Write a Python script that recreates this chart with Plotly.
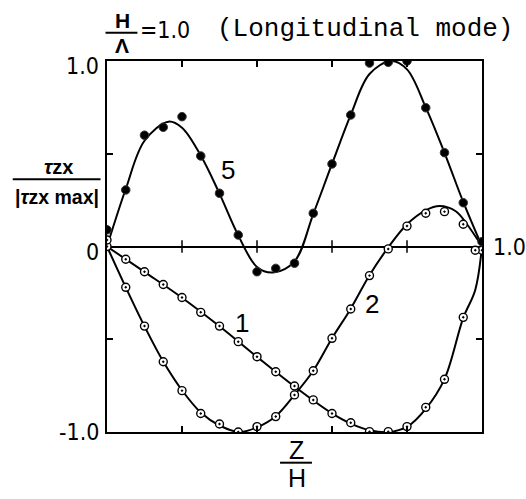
import plotly.graph_objects as go

# Measured shear-stress distributions, tau_zx / |tau_zx max| against Z/H
z1 = [0.0, 0.05, 0.10, 0.15, 0.20, 0.25, 0.30, 0.35, 0.40, 0.45, 0.50,
      0.55, 0.60, 0.65, 0.70, 0.75, 0.80, 0.85, 0.90, 0.95, 1.0]
t1 = [0.0, -0.069, -0.136, -0.205, -0.275, -0.355, -0.429, -0.513, -0.594, -0.675, -0.752,
      -0.827, -0.90, -0.95, -0.998, -0.998, -0.971, -0.867, -0.716, -0.382, -0.02]

z2 = [0.0, 0.05, 0.10, 0.15, 0.20, 0.25, 0.30, 0.35, 0.40, 0.45, 0.50,
      0.55, 0.60, 0.65, 0.70, 0.75, 0.80, 0.85, 0.90, 0.95, 0.982]
t2 = [0.035, -0.22, -0.429, -0.621, -0.777, -0.90, -0.957, -1.0, -0.971, -0.917, -0.80,
      -0.67, -0.495, -0.337, -0.157, -0.013, 0.11, 0.179, 0.188, 0.12, -0.02]

z5 = [0.0, 0.05, 0.10, 0.15, 0.20, 0.25, 0.30, 0.35, 0.40, 0.45, 0.50,
      0.55, 0.60, 0.65, 0.70, 0.75, 0.80, 0.85, 0.90, 0.95, 1.0]
t5 = [0.09, 0.305, 0.60, 0.643, 0.70, 0.488, 0.287, 0.062, -0.136, -0.118, -0.09,
      0.179, 0.445, 0.709, 0.989, 0.993, 1.0, 0.748, 0.506, 0.236, 0.026]

# Theoretical curves (nodes of the smooth solid lines)
c1_z = [0.0, 0.1, 0.2, 0.3, 0.4, 0.5, 0.6, 0.65, 0.70, 0.75, 0.80, 0.85, 0.90, 0.95, 0.982, 1.0]
c1_t = [0.0, -0.137, -0.276, -0.43, -0.595, -0.755, -0.90, -0.955, -0.99, -1.0, -0.972,
        -0.875, -0.715, -0.385, -0.234, 0.0]

c2_z = [0.0, 0.05, 0.10, 0.15, 0.20, 0.25, 0.30, 0.353, 0.40, 0.45, 0.50, 0.55, 0.60,
        0.65, 0.70, 0.75, 0.80, 0.85, 0.887, 0.93, 0.96, 1.0]
c2_t = [0.0, -0.22, -0.43, -0.62, -0.775, -0.895, -0.965, -1.0, -0.975, -0.915, -0.80,
        -0.67, -0.495, -0.335, -0.155, -0.005, 0.12, 0.195, 0.218, 0.19, 0.12, 0.0]

c5_z = [0.0, 0.05, 0.10, 0.164, 0.20, 0.25, 0.30, 0.35, 0.40, 0.443, 0.50, 0.55, 0.60,
        0.65, 0.70, 0.758, 0.80, 0.85, 0.90, 0.95, 1.0]
c5_t = [0.0, 0.31, 0.57, 0.673, 0.64, 0.49, 0.285, 0.06, -0.11, -0.14, -0.08, 0.175, 0.445,
        0.71, 0.93, 1.0, 0.955, 0.75, 0.505, 0.24, 0.0]

curve_labels = ["1", "2", "5"]
label_z = [0.36, 0.706, 0.323]
label_t = [-0.412, -0.31, 0.412]

zero_ticks = [0.2, 0.4, 0.6, 0.8]
x_ticks = [0.2, 0.4, 0.6, 0.8]
y_ticks = [-0.5, 0.5]

W, H = 526, 499
ML, MR, MT, MB = 106.5, 43.5, 61, 67
PW, PH = W - ML - MR, H - MT - MB


def px(x):
    return (x - ML) / PW


def py(y):
    return (H - MB - y) / PH


NUM_FONT = "Liberation Sans Narrow, DejaVu Sans Condensed, Liberation Sans, sans-serif"
SANS = "Liberation Sans, Arial, sans-serif"
MONO = "Liberation Mono, DejaVu Sans Mono, monospace"

fig = go.Figure()

line_style = dict(color="black", width=2, shape="spline", smoothing=1.0)
for cz, ct in [(c1_z, c1_t), (c2_z, c2_t), (c5_z, c5_t)]:
    fig.add_trace(go.Scatter(x=cz, y=ct, mode="lines", line=line_style,
                             hoverinfo="skip", showlegend=False))

# short tick marks crossing the zero line
fig.add_trace(go.Scatter(x=zero_ticks, y=[0] * len(zero_ticks), mode="markers",
                         marker=dict(symbol="line-ns", size=9,
                                     line=dict(color="black", width=1.5)),
                         hoverinfo="skip", showlegend=False))

open_marker = dict(symbol="circle-dot", size=8, color="white",
                   line=dict(color="black", width=1.4))
for zz, tt in [(z1, t1), (z2, t2)]:
    fig.add_trace(go.Scatter(x=zz, y=tt, mode="markers", marker=open_marker,
                             showlegend=False))

fig.add_trace(go.Scatter(x=z5, y=t5, mode="markers",
                         marker=dict(symbol="circle", size=8.5, color="black",
                                     line=dict(color="#333", width=1)),
                         showlegend=False))


def text_at(x, y, txt, font, xanchor="center", yanchor="middle", xref="paper",
            yref="paper", **kw):
    return dict(x=x, y=y, xref=xref, yref=yref, text=txt, showarrow=False,
                xanchor=xanchor, yanchor=yanchor, font=font, **kw)


annotations = []
for lab, lz, lt in zip(curve_labels, label_z, label_t):
    annotations.append(text_at(lz, lt, lab, dict(family=SANS, size=26, color="black"),
                               xref="x", yref="y"))

# y-axis value labels
for val, txt, ys in [(1.0, "1.0", -5), (0.0, "0", -5), (-1.0, "-1.0", 0)]:
    annotations.append(text_at(0, val, txt, dict(family=NUM_FONT, size=23, color="black"),
                               xanchor="right", yref="y", xshift=-6, yshift=ys))
# right-hand end of the zero line
annotations.append(text_at(1, 0, "1.0", dict(family=NUM_FONT, size=23, color="black"),
                           xanchor="left", yref="y", xshift=9))

# y-axis title as a stacked fraction
annotations.append(text_at(px(57.5), py(167), "<b><i>τ</i>zx</b>",
                           dict(family=SANS, size=20, color="black")))
annotations.append(text_at(px(56.5), py(197), "<b>|<i>τ</i>zx max|</b>",
                           dict(family=SANS, size=19.5, color="black")))

# x-axis title Z/H
annotations.append(text_at(px(296.5), py(450), "Z", dict(family=SANS, size=25, color="black")))
annotations.append(text_at(px(297), py(478), "H", dict(family=SANS, size=25, color="black")))

# heading: H/Λ = 1.0 (Longitudinal mode)
annotations.append(text_at(px(122), py(20.5), "<b>H</b>", dict(family=SANS, size=21, color="black")))
annotations.append(text_at(px(122), py(45.5), "<b>Λ</b>", dict(family=SANS, size=21, color="black")))
annotations.append(text_at(px(138), py(30), "=1.0", dict(family=NUM_FONT, size=23, color="black"),
                           xanchor="left"))
annotations.append(text_at(px(215), py(29), "(Longitudinal mode)",
                           dict(family=MONO, size=26, color="black"), xanchor="left"))

shapes = [
    dict(type="line", xref="paper", yref="paper", x0=px(12), x1=px(100),
         y0=py(179.3), y1=py(179.3), line=dict(color="black", width=2)),
    dict(type="line", xref="paper", yref="paper", x0=px(280), x1=px(312),
         y0=py(462.7), y1=py(462.7), line=dict(color="black", width=2)),
    dict(type="line", xref="paper", yref="paper", x0=px(105), x1=px(137),
         y0=py(32.7), y1=py(32.7), line=dict(color="black", width=2)),
]

fig.update_layout(
    width=W, height=H,
    margin=dict(l=ML, r=MR, t=MT, b=MB, pad=0),
    paper_bgcolor="white", plot_bgcolor="white",
    showlegend=False,
    annotations=annotations,
    shapes=shapes,
    xaxis=dict(range=[0, 1], showgrid=False, zeroline=False,
               showline=True, linecolor="black", linewidth=2, mirror="ticks",
               ticks="inside", tickvals=x_ticks, ticklen=6, tickwidth=1.5,
               tickcolor="black", showticklabels=False, fixedrange=True),
    yaxis=dict(range=[-1, 1], showgrid=False, zeroline=True, zerolinecolor="black",
               zerolinewidth=2, showline=True, linecolor="black", linewidth=2,
               mirror="ticks", ticks="inside", tickvals=y_ticks, ticklen=6,
               tickwidth=1.5, tickcolor="black", showticklabels=False, fixedrange=True),
)

fig.write_html("out.html")
